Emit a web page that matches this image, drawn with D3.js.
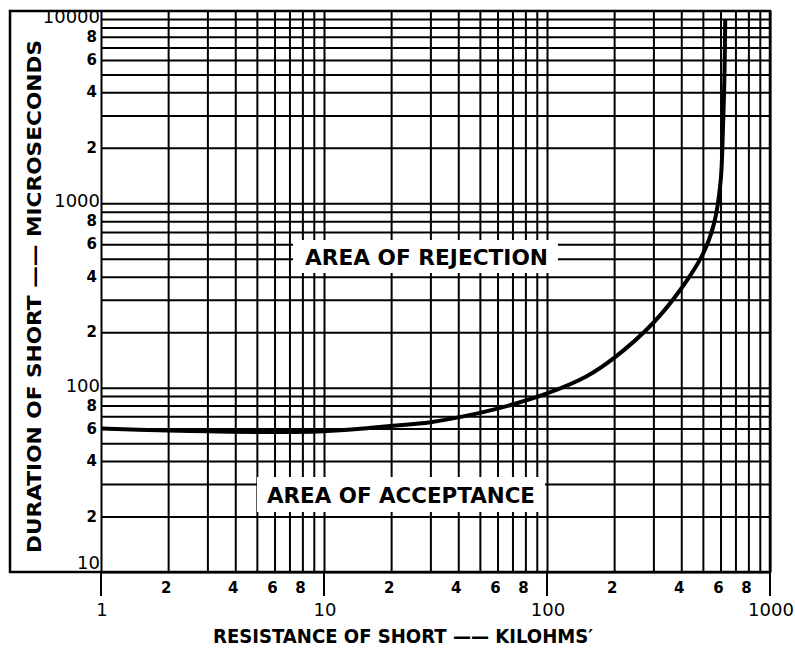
<!DOCTYPE html>
<html>
<head>
<meta charset="utf-8">
<script src="https://cdn.jsdelivr.net/npm/d3@7"></script>
<style>
  body { margin: 0; background: #fff; }
  text { font-family: "DejaVu Sans", sans-serif; fill: #000; }
</style>
</head>
<body>
<svg id="chart" width="795" height="649"></svg>
<script>
// curve: resistance (kilohms) vs duration (microseconds)
const resistance = [1, 2, 3, 5, 7, 10, 15, 20, 30, 50, 70, 100, 150, 200, 300, 400, 500, 560, 600, 615, 625, 630]
const duration = [60, 58.5, 58, 57.5, 57.5, 58, 60, 62, 65, 73, 81, 93, 115, 145, 225, 345, 530, 770, 1300, 2500, 5000, 10000]

const xDecades = [1, 10, 100]
const yDecades = [10, 100, 1000]
const gridSteps = [1, 2, 3, 4, 5, 6, 7, 8, 9]
const minorLabels = [2, 4, 6, 8]
const xMajor = ['1', '10', '100', '1000']
const yMajor = ['10', '100', '1000', '10000']

const svg = d3.select('#chart')

const x = d3.scaleLog().domain([1, 1000]).range([101, 770])
const y = d3.scaleLog().domain([10, 10000]).range([572, 19])

const xGrid = xDecades.flatMap(d => gridSteps.map(s => d * s)).concat([1000])
const yGrid = yDecades.flatMap(d => gridSteps.map(s => d * s)).concat([10000])

// outer frame
svg.append('rect')
    .attr('x', 10).attr('y', 11)
    .attr('width', 760).attr('height', 561)
    .attr('fill', 'none').attr('stroke', '#000').attr('stroke-width', 2.5)

// grid via axes with long ticks
const gx = svg.append('g')
    .attr('transform', 'translate(0,572)')
    .call(d3.axisBottom(x).tickValues(xGrid).tickSize(-561).tickFormat(''))
const gy = svg.append('g')
    .attr('transform', 'translate(101,0)')
    .call(d3.axisLeft(y).tickValues(yGrid).tickSize(-669).tickFormat(''))
;[gx, gy].forEach(g => {
  g.select('.domain').remove()
  g.selectAll('.tick line').attr('stroke', '#000').attr('stroke-width', 2)
})

// major ticks hanging under the x axis
svg.append('g').selectAll('line')
  .data(xMajor).enter().append('line')
    .attr('x1', d => x(+d)).attr('x2', d => x(+d))
    .attr('y1', 572).attr('y2', 596)
    .attr('stroke', '#000').attr('stroke-width', 2)

// the curve
const line = d3.line()
    .x(d => x(d[0]))
    .y(d => y(d[1]))
    .curve(d3.curveCatmullRom.alpha(0.5))
svg.append('path')
    .datum(d3.zip(resistance, duration))
    .attr('d', line)
    .attr('fill', 'none')
    .attr('stroke', '#000')
    .attr('stroke-width', 4)

// white label boxes
const boxes = [
  { text: 'AREA OF REJECTION', x0: 293, x1: 558, y0: 240, y1: 273, tx: 305, tw: 243 },
  { text: 'AREA OF ACCEPTANCE', x0: 257, x1: 545, y0: 477, y1: 512, tx: 267, tw: 268 }
]
const bg = svg.append('g').selectAll('g').data(boxes).enter().append('g')
bg.append('rect')
    .attr('x', d => d.x0).attr('y', d => d.y0)
    .attr('width', d => d.x1 - d.x0).attr('height', d => d.y1 - d.y0)
    .attr('fill', '#fff')
bg.append('text')
    .attr('x', d => d.tx)
    .attr('y', d => (d.y0 + d.y1) / 2 + 8)
    .attr('textLength', d => d.tw)
    .attr('lengthAdjust', 'spacingAndGlyphs')
    .style('font-size', '21px')
    .style('font-weight', 'bold')
    .text(d => d.text)

// x tick labels
svg.append('g').selectAll('text')
  .data(xDecades.flatMap(d => minorLabels.map(s => ({ v: d * s, s })))).enter().append('text')
    .attr('x', d => x(d.v) - 2)
    .attr('y', 593)
    .attr('text-anchor', 'middle')
    .style('font-size', '15px')
    .style('font-weight', 'bold')
    .text(d => d.s)
svg.append('g').selectAll('text')
  .data(xMajor).enter().append('text')
    .attr('x', d => x(+d) + 1)
    .attr('y', 616)
    .attr('text-anchor', 'middle')
    .style('font-size', '18px')
    .text(d => d)

// y tick labels
svg.append('g').selectAll('text')
  .data(yDecades.flatMap(d => minorLabels.map(s => ({ v: d * s, s })))).enter().append('text')
    .attr('x', 97)
    .attr('y', d => y(d.v) + 5)
    .attr('text-anchor', 'end')
    .style('font-size', '15px')
    .style('font-weight', 'bold')
    .text(d => d.s)
svg.append('g').selectAll('text')
  .data(yMajor).enter().append('text')
    .attr('x', 100)
    .attr('y', d => Math.min(y(+d) + 4, 569))
    .attr('text-anchor', 'end')
    .style('font-size', '18px')
    .text(d => d)

// axis titles
svg.append('text')
    .attr('x', 213).attr('y', 643)
    .attr('textLength', 380)
    .attr('lengthAdjust', 'spacingAndGlyphs')
    .style('font-size', '19px')
    .style('font-weight', 'bold')
    .text('RESISTANCE OF SHORT \u2014\u2014 KILOHMS\u2032')
svg.append('text')
    .attr('transform', 'translate(41,553) rotate(-90)')
    .attr('textLength', 513)
    .attr('lengthAdjust', 'spacingAndGlyphs')
    .style('font-size', '20px')
    .style('font-weight', 'bold')
    .text('DURATION OF SHORT \u2014\u2014 MICROSECONDS')
</script>
</body>
</html>
